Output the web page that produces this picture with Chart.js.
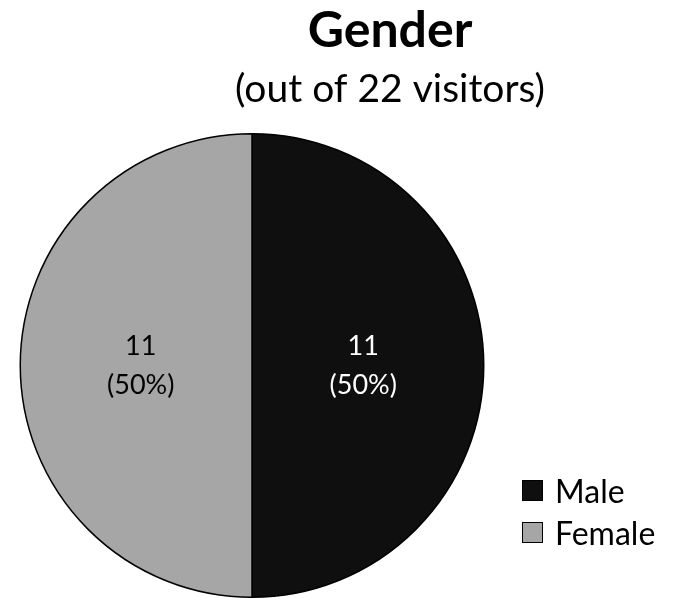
<!DOCTYPE html>
<html>
<head>
<meta charset="utf-8">
<script src="https://cdn.jsdelivr.net/npm/chart.js@4.4.0/dist/chart.umd.min.js"></script>
<style>
  body { margin: 0; background: #fff; }
  #wrap { position: relative; width: 678px; height: 598px; }
  #legend { position: absolute; left: 522px; top: 469px; font-family: Lato, "Open Sans", sans-serif; font-size: 32px; color: #000; }
  #legend div { display: flex; align-items: center; height: 42px; }
  #legend span.box { display: inline-block; width: 19px; height: 19px; border: 1px solid #000; margin-right: 12px; }
</style>
</head>
<body>
<div id="wrap">
  <canvas id="genderChart" width="678" height="598"></canvas>
  <div id="legend"></div>
</div>
<script>
const chartTitle = 'Gender';
const chartSubtitle = '(out of 22 visitors)';
const genderLabels = ['Male', 'Female'];
const genderCounts = [11, 11];
const genderColors = ['#0f0f0f', '#a6a6a6'];
const labelColors = ['#ffffff', '#000000'];
const totalVisitors = 22;

// legend
const legendEl = document.getElementById('legend');
genderLabels.forEach((name, i) => {
    const row = document.createElement('div');
    row.innerHTML = `<span class="box" style="background:${genderColors[i]}"></span>${name}`;
    legendEl.appendChild(row);
});

// title block sits right of the pie centre, so draw it by hand
const titleBlock = {
    id: 'titleBlock',
    afterDraw(chart) {
        const ctx = chart.ctx;
        ctx.save();
        ctx.fillStyle = '#000';
        ctx.textAlign = 'center';
        ctx.textBaseline = 'alphabetic';
        ctx.font = 'bold 50px Lato, "Open Sans", sans-serif';
        ctx.fillText(chartTitle, 390, 47);
        ctx.font = '39px Lato, "Open Sans", sans-serif';
        ctx.fillText(chartSubtitle, 390, 102);
        ctx.restore();
    }
};

// draws "11 (50%)" inside each slice
const sliceLabels = {
    id: 'sliceLabels',
    afterDatasetsDraw(chart) {
        const ctx = chart.ctx;
        const meta = chart.getDatasetMeta(0);
        ctx.save();
        ctx.font = '27px Lato, "Open Sans", sans-serif';
        ctx.textAlign = 'center';
        ctx.textBaseline = 'middle';
        meta.data.forEach((arc, i) => {
            const mid = (arc.startAngle + arc.endAngle) / 2;
            const r = arc.outerRadius * 0.48;
            const x = arc.x + Math.cos(mid) * r;
            const y = arc.y + Math.sin(mid) * r;
            const v = genderCounts[i];
            const pct = Math.round(v / totalVisitors * 100);
            ctx.fillStyle = labelColors[i];
            ctx.fillText(String(v), x, y - 19);
            ctx.fillText('(' + pct + '%)', x, y + 20);
        });
        ctx.restore();
    }
};

new Chart(document.getElementById('genderChart').getContext('2d'), {
    type: 'pie',
    data: {
        labels: genderLabels,
        datasets: [{ data: genderCounts, backgroundColor: genderColors, borderColor: '#000', borderWidth: 1.5 }]
    },
    options: {
        responsive: false, animation: false,
        layout: { padding: { left: 16, right: 190, top: 133, bottom: -8 } },
        plugins: {
            legend: { display: false },
            tooltip: { enabled: false },
            title: { display: false },
            subtitle: { display: false }
        }
    },
    plugins: [sliceLabels, titleBlock]
});
</script>
</body>
</html>
